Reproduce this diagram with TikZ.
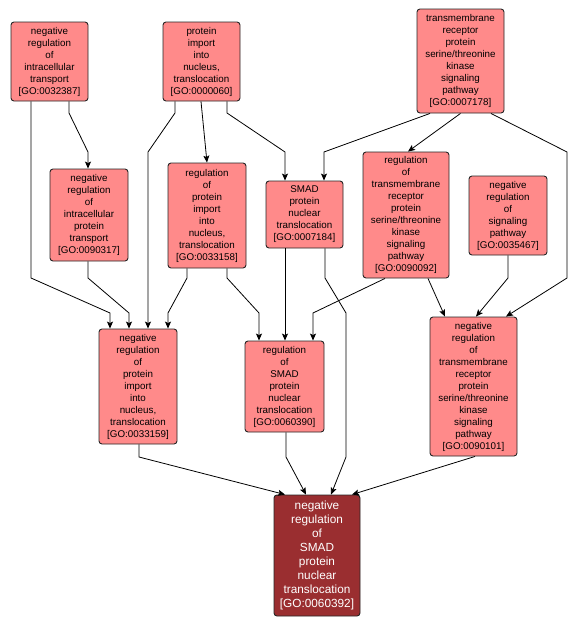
\documentclass[tikz,border=0pt]{standalone}
\usepackage{fontspec}
\setmainfont{Liberation Sans}
\usetikzlibrary{arrows.meta}
\definecolor{lightnode}{HTML}{FF8A8A}
\definecolor{darknode}{HTML}{9A2E30}
\tikzset{
  goterm/.style={draw=black!85, fill=lightnode, rounded corners=3pt, line width=0.9pt,
    align=center, inner sep=0pt, font=\fontsize{9.8}{12}\selectfont},
  gofocus/.style={draw=black!85, fill=darknode, text=white, rounded corners=3pt, line width=0.9pt,
    align=center, inner sep=0pt, font=\fontsize{11.8}{14}\selectfont},
  edge/.style={draw=black, line width=0.8pt, -{Stealth[length=7pt,width=6pt,inset=1.5pt]}}
}
\begin{document}
\begin{tikzpicture}[x=1pt,y=-1pt]
\useasboundingbox (0,0) rectangle (578,629);
\node[goterm, minimum width=77pt, minimum height=79pt] (A) at (49.5,61.5)
  {negative\\regulation\\of\\intracellular\\transport\\{[}GO:0032387{]}};
\node[goterm, minimum width=77pt, minimum height=79pt] (B) at (201.5,61.5)
  {protein\\import\\into\\nucleus,\\translocation\\{[}GO:0000060{]}};
\node[goterm, minimum width=87pt, minimum height=104pt] (C) at (460.5,61)
  {transmembrane\\receptor\\protein\\serine/threonine\\kinase\\signaling\\pathway\\{[}GO:0007178{]}};
\node[goterm, minimum width=78pt, minimum height=92pt] (D) at (89,215)
  {negative\\regulation\\of\\intracellular\\protein\\transport\\{[}GO:0090317{]}};
\node[goterm, minimum width=78pt, minimum height=105pt] (E) at (207,215.5)
  {regulation\\of\\protein\\import\\into\\nucleus,\\translocation\\{[}GO:0033158{]}};
\node[goterm, minimum width=77pt, minimum height=67pt] (F) at (304.5,214.5)
  {SMAD\\protein\\nuclear\\translocation\\{[}GO:0007184{]}};
\node[goterm, minimum width=86pt, minimum height=126pt] (G) at (406,215)
  {regulation\\of\\transmembrane\\receptor\\protein\\serine/threonine\\kinase\\signaling\\pathway\\{[}GO:0090092{]}};
\node[goterm, minimum width=78pt, minimum height=79pt] (H) at (508,215.5)
  {negative\\regulation\\of\\signaling\\pathway\\{[}GO:0035467{]}};
\node[goterm, minimum width=78pt, minimum height=115pt] (I) at (138,386.5)
  {negative\\regulation\\of\\protein\\import\\into\\nucleus,\\translocation\\{[}GO:0033159{]}};
\node[goterm, minimum width=79pt, minimum height=91pt] (J) at (284.5,386.5)
  {regulation\\of\\SMAD\\protein\\nuclear\\translocation\\{[}GO:0060390{]}};
\node[goterm, minimum width=87pt, minimum height=139pt] (K) at (473.5,386.5)
  {negative\\regulation\\of\\transmembrane\\receptor\\protein\\serine/threonine\\kinase\\signaling\\pathway\\{[}GO:0090101{]}};
\node[gofocus, minimum width=86pt, minimum height=121pt] (L) at (317,555.5)
  {negative\\regulation\\of\\SMAD\\protein\\nuclear\\translocation\\{[}GO:0060392{]}};

\draw[edge] ([xshift=19.5pt]A.south) -- (69,113) -- (88,152) -- ([xshift=-1pt]D.north);
\draw[edge] ([xshift=-18.5pt]A.south) -- (31,278) -- (110,313) -- ([xshift=-28pt]I.north);
\draw[edge] ([xshift=-1pt]D.south) -- (88,278) -- (129,313) -- ([xshift=-9pt]I.north);
\draw[edge] ([xshift=-26.5pt]B.south) -- (175,113) -- (148,152) -- ([xshift=10pt]I.north);
\draw[edge] ([xshift=-20pt]E.south) -- (187,278) -- (168,313) -- ([xshift=30pt]I.north);
\draw[edge] ([xshift=-0.5pt]B.south) -- (E.north);
\draw[edge] ([xshift=25.5pt]B.south) -- (227,113) -- (285,152) -- ([xshift=-19.5pt]F.north);
\draw[edge] ([xshift=20pt]E.south) -- (227,278) -- (259,313) -- ([xshift=-25.5pt]J.north);
\draw[edge] ([xshift=-19.5pt]F.south) -- ([xshift=0.5pt]J.north);
\draw[edge] ([xshift=20.5pt]F.south) -- (325,278) -- (346,313) -- (346,457) -- ([xshift=14pt]L.north);
\draw[edge] ([xshift=-30.5pt]C.south) -- (324,152) -- ([xshift=19.5pt]F.north);
\draw[edge] (C.south) -- ([xshift=2pt]G.north);
\draw[edge] ([xshift=30.5pt]C.south) -- (567,152) -- (567,278) -- ([xshift=32.5pt]K.north);
\draw[edge] ([xshift=-21pt]G.south) -- (313,313) -- ([xshift=28.5pt]J.north);
\draw[edge] ([xshift=22pt]G.south) -- ([xshift=-28.5pt]K.north);
\draw[edge] (H.south) -- (508,278) -- ([xshift=2.5pt]K.north);
\draw[edge] ([xshift=1pt]I.south) -- (139,457) -- ([xshift=-32pt]L.north);
\draw[edge] ([xshift=1.5pt]J.south) -- (286,457) -- ([xshift=-11pt]L.north);
\draw[edge] ([xshift=1.5pt]K.south) -- ([xshift=35pt]L.north);
\end{tikzpicture}
\end{document}
